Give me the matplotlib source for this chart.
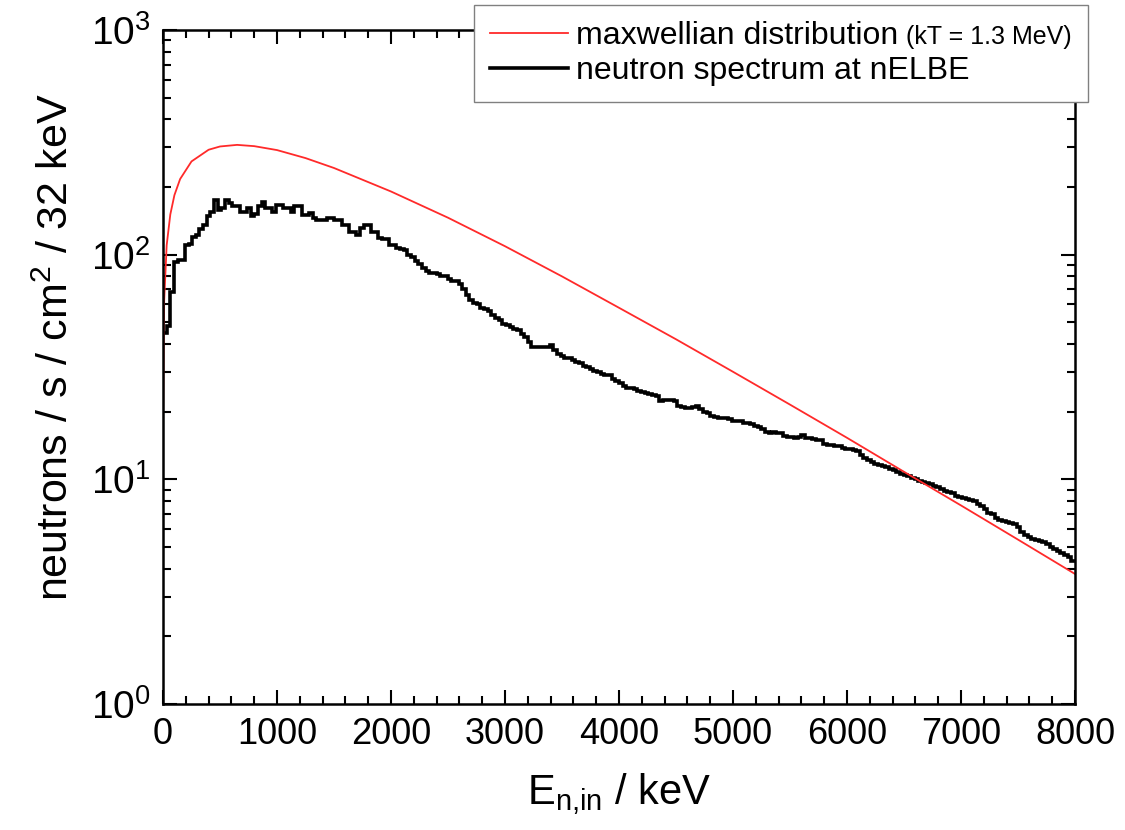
import numpy as np
import matplotlib.pyplot as plt
from matplotlib.ticker import MultipleLocator, LogLocator
from matplotlib.offsetbox import TextArea

plt.rcParams["font.family"] = ["Liberation Sans", "DejaVu Sans"]
plt.rcParams["mathtext.fontset"] = "custom"
plt.rcParams["mathtext.rm"] = "Liberation Sans"
plt.rcParams["mathtext.it"] = "Liberation Sans"
plt.rcParams["mathtext.default"] = "regular"

# maxwellian curve (kT = 1.3 MeV)
maxw_energy = [1, 10, 32, 64, 100, 150, 250, 400, 500, 650, 800, 1000, 1250,
               1500, 2000, 2500, 3000, 3500, 4000, 4500, 5000, 5500, 6000,
               6500, 7000, 7500, 8000]
maxw_flux = [20, 62, 110, 151, 184, 217, 260, 293, 303, 308, 304, 292, 269,
             243, 191, 146, 109, 80, 58, 42, 30.1, 21.5, 15.3,
             10.8, 7.65, 5.39, 3.79]

# measured nELBE spectrum, 32 keV bins from 0 to 8000 keV
bin_width = 32
spectrum = [
    45, 48, 68, 93, 95, 95, 110, 112, 120, 122,
    130, 136, 148, 155, 175, 158, 162, 175, 170, 164,
    164, 155, 155, 161, 148, 152, 164, 172, 161, 161,
    155, 166, 166, 161, 161, 155, 164, 164, 150, 150,
    153, 146, 143, 143, 143, 146, 146, 143, 143, 136,
    136, 126, 126, 122, 131, 136, 136, 126, 126, 119,
    117, 117, 110, 110, 107, 106, 105, 100, 98, 94,
    91, 87, 85, 83, 83, 82, 80, 80, 78, 76,
    76, 74, 70, 66, 63, 61, 60, 58, 57, 56,
    54, 52, 51, 49, 48.5, 47.5, 46.5, 46, 44.5, 43,
    41, 39, 38.8, 38.8, 38.9, 39, 39.5, 37.5, 36, 35.5,
    34.8, 34.5, 34, 33.2, 33, 32, 31.7, 31, 30.3, 30,
    29.5, 29.2, 29, 28, 27.3, 26.8, 26, 25.5, 25.4, 25.2,
    24.6, 24.5, 24.3, 24, 23.7, 23.4, 22.4, 22.5, 22.6, 22.6,
    22.3, 21.2, 21, 20.7, 20.7, 20.9, 21.3, 20.5, 20, 19.8,
    19.2, 18.9, 18.8, 18.7, 18.7, 18.5, 18.2, 18.2, 18.1, 17.9,
    17.8, 17.6, 17.3, 17.1, 16.8, 16.2, 16.1, 16.2, 16.1, 16,
    15.6, 15.5, 15.4, 15.3, 15.5, 15.7, 15.3, 15.2, 15.1, 15,
    14.9, 14.4, 14.2, 14.2, 14, 14, 13.8, 13.6, 13.6, 13.5,
    13.4, 12.8, 12.4, 12.2, 12, 11.7, 11.6, 11.5, 11.3, 11.1,
    11, 10.8, 10.6, 10.5, 10.3, 10.1, 10, 9.8, 9.7, 9.6,
    9.5, 9.35, 9.25, 9.1, 8.9, 8.8, 8.7, 8.45, 8.35, 8.25,
    8.15, 8.1, 8.0, 7.75, 7.6, 7.35, 7.1, 7.0, 6.75, 6.6,
    6.5, 6.45, 6.4, 6.3, 6.15, 5.85, 5.65, 5.55, 5.4, 5.35,
    5.3, 5.25, 5.15, 5.0, 4.9, 4.8, 4.7, 4.6, 4.5, 4.35,
]
edges = np.arange(len(spectrum) + 1) * bin_width

fig = plt.figure(figsize=(11.25, 8.3), dpi=100)
ax = fig.add_axes([0.1449, 0.1518, 0.8107, 0.8121])

red_line, = ax.plot(maxw_energy, maxw_flux, color="#ff2a2a", lw=1.3)
black_line = ax.stairs(spectrum, edges, baseline=None, color="black", lw=2.6)

ax.set_yscale("log")
ax.set_xlim(0, 8000)
ax.set_ylim(1, 1000)

ax.xaxis.set_major_locator(MultipleLocator(1000))
ax.xaxis.set_minor_locator(MultipleLocator(200))
ax.yaxis.set_major_locator(LogLocator(base=10))
ax.yaxis.set_minor_locator(LogLocator(base=10, subs=np.arange(2, 10)))

ax.tick_params(which="both", direction="in", top=True, right=True, width=1.5)
ax.tick_params(which="major", length=10)
ax.tick_params(which="minor", length=5.5)
ax.tick_params(axis="x", labelsize=26, pad=9)
ax.tick_params(axis="y", labelsize=28, pad=9)
for s in ax.spines.values():
    s.set_linewidth(1.8)

ax.set_xlabel(r"E$_{n{,}in}$ / keV", fontsize=30, labelpad=14)
ax.set_ylabel(r"neutrons / s / cm$^2$ / 32 keV", fontsize=31, labelpad=10)
ax.yaxis.label.set_y(0.53)

leg = fig.legend([red_line, black_line],
                 ["maxwellian distribution", "neutron spectrum at nELBE"],
                 loc="upper right", bbox_to_anchor=(0.967, 0.994),
                 fontsize=23, frameon=True, fancybox=False, framealpha=1,
                 edgecolor="#808080", handlelength=2.45, handletextpad=0.25,
                 labelspacing=0.15, borderpad=0.5, borderaxespad=0)
leg.get_frame().set_linewidth(1.0)

# smaller "(kT = 1.3 MeV)" right after the first legend label
first_row = leg._legend_handle_box.get_children()[0].get_children()[0]
kt_note = TextArea("(kT = 1.3 MeV)", textprops=dict(fontsize=18))
kt_note.set_figure(fig)
first_row._children.append(kt_note)

fig.savefig("out.png", dpi=100)
